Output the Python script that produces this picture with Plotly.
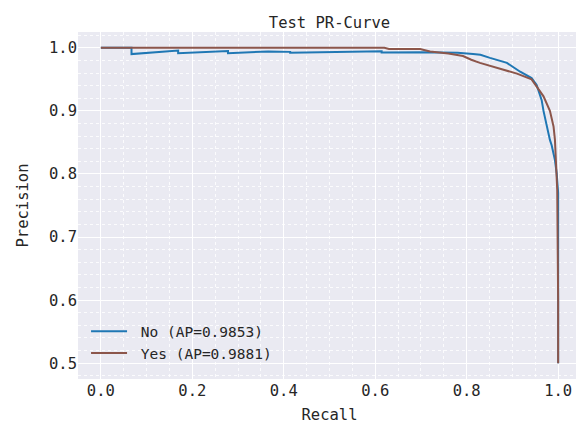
import plotly.graph_objects as go

# Class "No" PR curve (recall, precision)
no_recall = [0.0, 0.067, 0.067, 0.169, 0.169, 0.278, 0.278, 0.366, 0.414, 0.414,
             0.614, 0.614, 0.70, 0.78, 0.814, 0.83, 0.851, 0.888, 0.917, 0.942,
             0.953, 0.964, 0.968, 0.975, 0.982, 0.986, 0.993, 0.997, 1.0, 1.0]
no_precision = [1.0, 1.0, 0.990, 0.9957, 0.9915, 0.9947, 0.9915, 0.994, 0.9935, 0.992,
                0.9945, 0.9925, 0.993, 0.992, 0.990, 0.989, 0.984, 0.976, 0.962, 0.952,
                0.941, 0.917, 0.900, 0.875, 0.854, 0.845, 0.822, 0.800, 0.770, 0.500]

# Class "Yes" PR curve
yes_recall = [0.0, 0.62, 0.63, 0.698, 0.72, 0.76, 0.792, 0.81, 0.829, 0.866,
              0.89, 0.91, 0.942, 0.953, 0.968, 0.982, 0.99, 0.993, 0.995, 0.996,
              0.998, 1.0, 1.0]
yes_precision = [1.0, 1.0, 0.998, 0.998, 0.994, 0.991, 0.987, 0.981, 0.976, 0.968,
                 0.964, 0.959, 0.950, 0.939, 0.923, 0.900, 0.875, 0.854, 0.822, 0.800,
                 0.775, 0.600, 0.500]

labels = ["No (AP=0.9853)", "Yes (AP=0.9881)"]
colors = ["#1f77b4", "#8c564b"]

FONT = "DejaVu Sans Mono"
TXT = "#262626"
FS = 15.5

fig = go.Figure()
fig.add_trace(go.Scatter(x=no_recall, y=no_precision, mode="lines",
                         name="\u00a0" + labels[0],
                         line=dict(color=colors[0], width=2)))
fig.add_trace(go.Scatter(x=yes_recall, y=yes_precision, mode="lines",
                         name="\u00a0" + labels[1],
                         line=dict(color=colors[1], width=2)))

axis_common = dict(
    showline=False, zeroline=False, ticks="", automargin=False,
    gridcolor="white", gridwidth=1,
    tickfont=dict(family=FONT, size=FS, color=TXT),
    tickformat=".1f",
)

# page has an 8px body margin; margins compensate so the plot area sits as in the reference
fig.update_layout(
    width=584, height=430,
    margin=dict(l=70, r=11, t=24, b=59),
    paper_bgcolor="white", plot_bgcolor="#EAEAF2",
    font=dict(family=FONT, size=FS, color=TXT),
    title=dict(text="Test PR-Curve", xref="paper", x=0.5, xanchor="center",
               yref="paper", y=1.0, yanchor="bottom",
               pad=dict(t=0, b=4, l=0, r=0),
               font=dict(family=FONT, size=FS, color=TXT)),
    xaxis=dict(range=[-0.05, 1.05], dtick=0.2, tick0=0,
               title=dict(text="Recall", font=dict(family=FONT, size=FS, color=TXT), standoff=10),
               minor=dict(dtick=0.05, showgrid=True, gridcolor="rgba(255,255,255,0.8)",
                          griddash="dot", gridwidth=1),
               **axis_common),
    yaxis=dict(range=[0.475, 1.025], dtick=0.1, tick0=0,
               title=dict(text="Precision", font=dict(family=FONT, size=FS, color=TXT), standoff=16),
               minor=dict(dtick=0.02, showgrid=True, gridcolor="rgba(255,255,255,0.8)",
                          griddash="dot", gridwidth=1),
               **axis_common),
    legend=dict(x=0.016, y=0.028, xanchor="left", yanchor="bottom",
                bgcolor="rgba(0,0,0,0)", font=dict(family=FONT, size=14.5, color=TXT),
                tracegroupgap=0, itemwidth=36),
    showlegend=True,
)

fig.write_html("out.html")
